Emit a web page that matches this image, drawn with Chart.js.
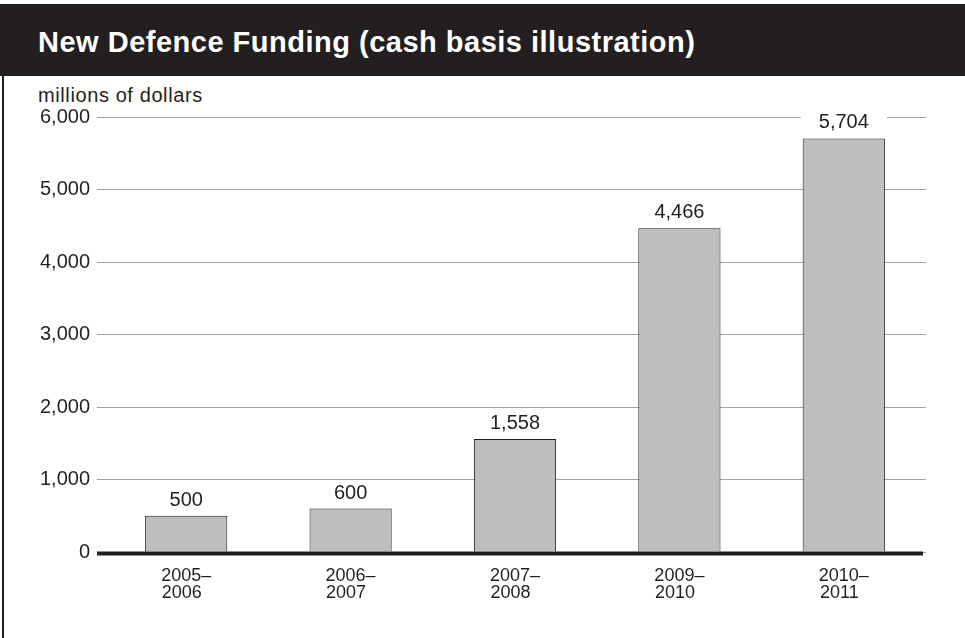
<!DOCTYPE html>
<html>
<head>
<meta charset="utf-8">
<script src="https://cdn.jsdelivr.net/npm/chart.js@4"></script>
<style>
  body { margin: 0; background: #fff; }
  #wrap { position: relative; width: 965px; height: 638px; overflow: hidden; }
  #bar { position: absolute; left: 0; top: 4px; width: 965px; height: 72px; background: #231f20; }
  #title { position: absolute; left: 38px; top: 22px; color: #fff; font: bold 29px "Liberation Sans", Arial, sans-serif; letter-spacing: 0.5px; white-space: nowrap; }
  #edge { position: absolute; left: 2px; top: 4px; width: 2px; height: 634px; background: #231f20; }
  #units { position: absolute; left: 38px; top: 84px; color: #231f20; font: 20px "Liberation Sans", Arial, sans-serif; letter-spacing: 0.6px; }
  canvas { position: absolute; left: 0; top: 0; }
</style>
</head>
<body>
<div id="wrap">
  <div id="bar"><div id="title">New Defence Funding (cash basis illustration)</div></div>
  <div id="edge"></div>
  <div id="units">millions of dollars</div>
  <canvas id="chart" width="965" height="638"></canvas>
</div>
<script>
const years = [['2005–', '2006\u2002'], ['2006–', '2007\u2002'], ['2007–', '2008\u2002'], ['2009–', '2010\u2002'], ['2010–', '2011\u2002']];
const funding = [500, 600, 1558, 4466, 5704];
const yTicks = [0, 1000, 2000, 3000, 4000, 5000, 6000];

const ink = '#231f20';
const font = '"Liberation Sans", Arial, sans-serif';

// value labels above bars, with a white box so the gridline breaks around them
const barLabels = {
    id: 'barLabels',
    afterDatasetsDraw(chart) {
        const c = chart.ctx;
        c.save();
        c.font = '20px ' + font;
        c.textAlign = 'center';
        c.textBaseline = 'alphabetic';
        chart.getDatasetMeta(0).data.forEach((bar, i) => {
            const txt = funding[i].toLocaleString('en-US');
            const w = c.measureText(txt).width;
            c.fillStyle = '#fff';
            c.fillRect(bar.x - w / 2 - 18, bar.y - 28, w + 36, 22);
            c.fillStyle = ink;
            c.fillText(txt, bar.x, bar.y - 10);
        });
        // thick zero line on top of the bar bottoms
        const y0 = chart.scales.y.getPixelForValue(0) + 1.5;
        c.strokeStyle = ink;
        c.lineWidth = 4;
        c.beginPath();
        c.moveTo(chart.chartArea.left - 7, y0);
        c.lineTo(chart.chartArea.right - 3, y0);
        c.stroke();
        c.restore();
    }
};

new Chart(document.getElementById('chart'), {
    type: 'bar',
    data: {
        labels: years,
        datasets: [{
            data: funding,
            backgroundColor: '#bcbec0',
            borderColor: ink,
            borderWidth: 1,
            barPercentage: 0.5,
            categoryPercentage: 1
        }]
    },
    options: {
        responsive: false,
        animation: false,
        layout: { padding: { top: 117, right: 39, bottom: 36, left: 0 } },
        plugins: { legend: { display: false }, tooltip: { enabled: false } },
        scales: {
            x: {
                grid: { display: false },
                border: { display: false },
                ticks: { color: ink, font: { family: font, size: 18, lineHeight: 0.95 }, padding: 7, maxRotation: 0 },
                afterFit(s) { s.height = 50; }
            },
            y: {
                min: 0,
                max: 6000,
                border: { display: false },
                grid: {
                    color: '#a0a2a5',
                    lineWidth: 1,
                    tickLength: 7,
                    drawTicks: true
                },
                ticks: {
                    color: ink,
                    padding: 7,
                    font: { family: font, size: 20 },
                    stepSize: 1000,
                    callback: v => yTicks.includes(v) ? v.toLocaleString('en-US') : null
                },
                afterFit(s) { s.width = 104; }
            }
        }
    },
    plugins: [barLabels]
});
</script>
</body>
</html>
